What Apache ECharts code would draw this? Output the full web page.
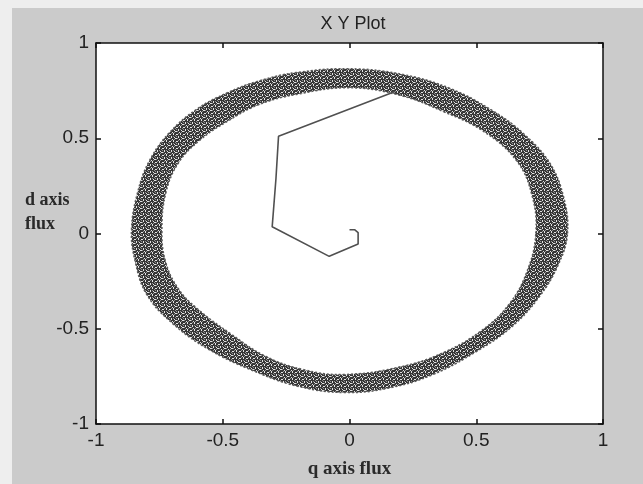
<!DOCTYPE html>
<html>
<head>
<meta charset="utf-8">
<script src="https://cdn.jsdelivr.net/npm/echarts@6/dist/echarts.min.js"></script>
<style>
html,body{margin:0;padding:0;background:#eeeeee;}
#c{width:643px;height:484px;}
</style>
</head>
<body>
<div id="c"></div>
<script>
// Axis ticks
const xTicks = [-1, -0.5, 0, 0.5, 1];
const yTicks = [-1, -0.5, 0, 0.5, 1];

// Flux ring (steady-state trajectory band): outer and inner boundaries
const ringOuterX = [0.86, 0.845, 0.79, 0.69, 0.57, 0.40, 0.21, 0.00, -0.21, -0.36, -0.48, -0.60, -0.71, -0.79, -0.835, -0.86, -0.845, -0.80, -0.70, -0.56, -0.39, -0.21, -0.02, 0.16, 0.33, 0.50, 0.64, 0.75, 0.825];
const ringOuterY = [0.00, 0.19, 0.37, 0.52, 0.64, 0.76, 0.835, 0.865, 0.845, 0.80, 0.74, 0.655, 0.53, 0.38, 0.22, 0.02, -0.15, -0.32, -0.47, -0.605, -0.715, -0.80, -0.835, -0.81, -0.74, -0.62, -0.49, -0.33, -0.16];
const ringInnerX = [0.735, 0.72, 0.66, 0.53, 0.37, 0.20, 0.00, -0.21, -0.36, -0.48, -0.59, -0.675, -0.725, -0.74, -0.725, -0.675, -0.60, -0.47, -0.33, -0.18, -0.02, 0.20, 0.37, 0.52, 0.63, 0.70];
const ringInnerY = [0.00, 0.20, 0.38, 0.535, 0.64, 0.725, 0.765, 0.73, 0.675, 0.59, 0.49, 0.37, 0.21, 0.01, -0.15, -0.29, -0.395, -0.525, -0.645, -0.715, -0.74, -0.70, -0.625, -0.51, -0.37, -0.20];

// Start-up transient path
const pathX = [0.00, 0.02, 0.034, 0.034, -0.08, -0.305, -0.29, -0.28, 0.18];
const pathY = [0.02, 0.02, 0.005, -0.055, -0.12, 0.035, 0.29, 0.51, 0.745];

function makePattern() {
  const c = document.createElement('canvas');
  c.width = 7; c.height = 7;
  const g = c.getContext('2d');
  g.fillStyle = '#363636'; g.fillRect(0, 0, 7, 7);
  g.fillStyle = '#e2e2e2';
  [[1,1,2,1],[5,0,1,2],[3,3,1,2],[6,4,1,1],[0,5,2,1],[4,6,1,1]].forEach(p => g.fillRect(p[0], p[1], p[2], p[3]));
  g.fillStyle = '#909090';
  [[3,0,1,1],[0,2,1,1],[5,3,1,1],[2,5,1,1],[6,6,1,1],[1,3,1,1]].forEach(p => g.fillRect(p[0], p[1], p[2], p[3]));
  return c;
}
const pat = makePattern();

const chart = echarts.init(document.getElementById('c'), null, {renderer: 'canvas'});

const axisCommon = {
  type: 'value', min: -1, max: 1, interval: 0.5,
  splitLine: {show: false},
  axisLine: {onZero: false, lineStyle: {color: '#111', width: 1.5}},
  axisTick: {inside: true, length: 5, lineStyle: {color: '#111', width: 1.5}}
};

chart.setOption({
  backgroundColor: '#eeeeee',
  animation: false,
  graphic: [{
    type: 'rect', left: 12, top: 8, z: -10,
    shape: {width: 631, height: 476},
    style: {fill: '#cbcbcb'}
  }, {
    type: 'text', left: 25, top: 188, z: 10,
    style: {text: 'd axis\nflux', fontFamily: 'Liberation Serif', fontSize: 18, fontWeight: 'bold', fill: '#2a2a2a', lineHeight: 24}
  }],
  title: {
    text: 'X Y Plot', left: 348, top: 10, textAlign: 'center',
    textStyle: {fontFamily: 'Liberation Sans', fontSize: 18, fontWeight: 'normal', color: '#222'}
  },
  grid: {left: 96, right: 40, top: 43, bottom: 54, show: true, backgroundColor: '#ffffff', borderWidth: 0},
  xAxis: [
    Object.assign({}, axisCommon, {
      position: 'bottom',
      axisLabel: {fontFamily: 'Liberation Sans', fontSize: 19, color: '#222', margin: 7,
        formatter: v => { const t = xTicks.find(k => Math.abs(k - v) < 1e-9); return t === undefined ? '' : String(t); }},
      name: 'q axis flux', nameLocation: 'middle', nameGap: 36,
      nameTextStyle: {fontFamily: 'Liberation Serif', fontSize: 19, fontWeight: 'bold', color: '#2a2a2a'}
    }),
    Object.assign({}, axisCommon, {position: 'top', axisLabel: {show: false}})
  ],
  yAxis: [
    Object.assign({}, axisCommon, {
      position: 'left',
      axisLabel: {fontFamily: 'Liberation Sans', fontSize: 19, color: '#222', margin: 7,
        formatter: v => { const t = yTicks.find(k => Math.abs(k - v) < 1e-9); return t === undefined ? '' : String(t); }}
    }),
    Object.assign({}, axisCommon, {position: 'right', axisLabel: {show: false}})
  ],
  series: [
    {
      type: 'custom', silent: true, clip: true,
      data: [[0, 0]],
      renderItem: function (params, api) {
        const outer = ringOuterX.map((x, i) => api.coord([x, ringOuterY[i]]));
        const inner = ringInnerX.map((x, i) => api.coord([x, ringInnerY[i]]));
        return {type: 'group', children: [
          {type: 'polygon', shape: {points: outer, smooth: 0.4},
           style: {fill: {image: pat, repeat: 'repeat'}, stroke: '#5a5a5a', lineWidth: 1.5, lineDash: [2, 2]}},
          {type: 'polygon', shape: {points: inner, smooth: 0.4},
           style: {fill: '#ffffff', stroke: '#5a5a5a', lineWidth: 1.5, lineDash: [2, 2]}}
        ]};
      }
    },
    {
      type: 'line', silent: true, symbol: 'none',
      data: pathX.map((x, i) => [x, pathY[i]]),
      lineStyle: {color: '#505050', width: 1.6}
    }
  ]
});
</script>
</body>
</html>
